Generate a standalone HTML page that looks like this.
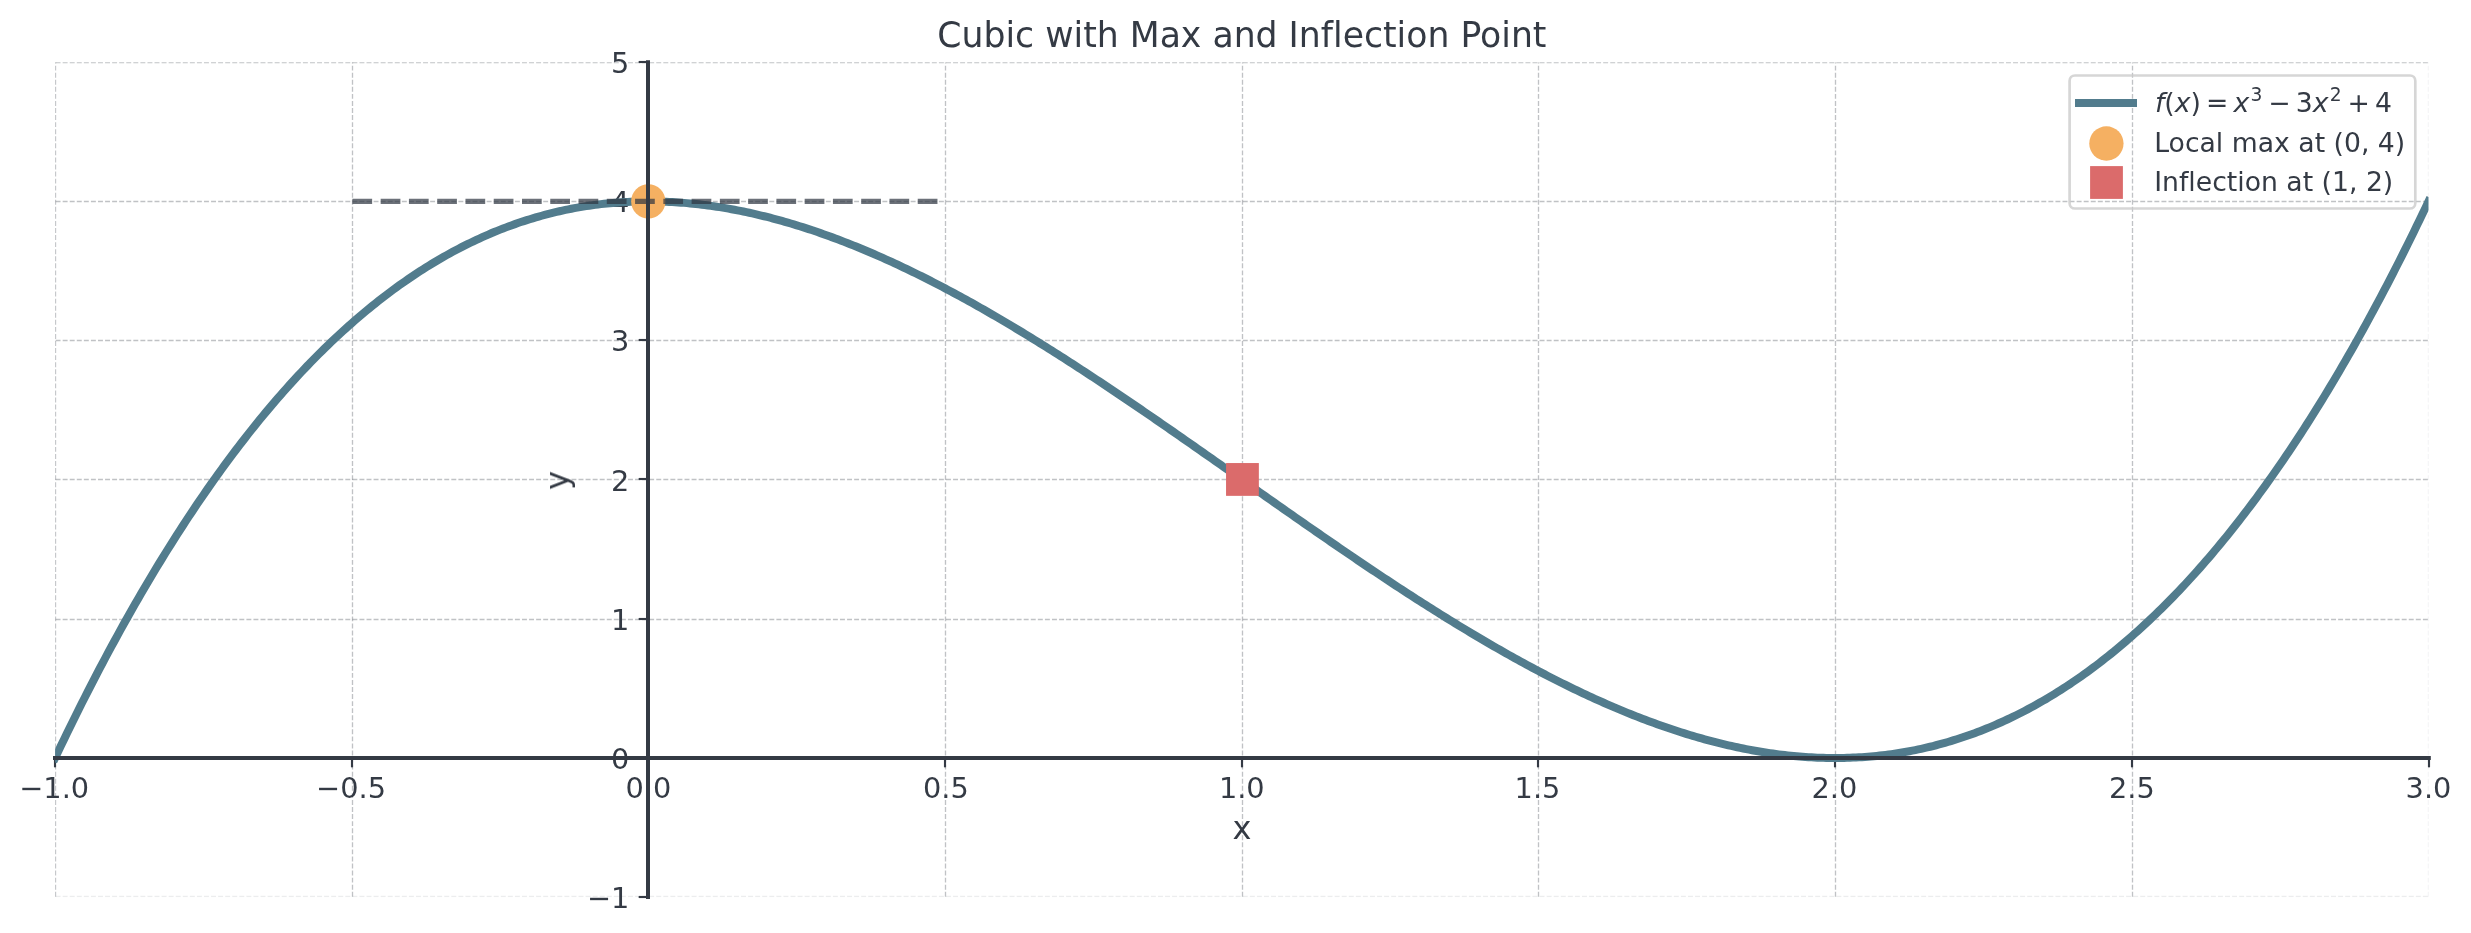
<!DOCTYPE html>
<html><head><meta charset="utf-8"><title>Cubic with Max and Inflection Point</title>
<style>html,body{margin:0;padding:0;background:#fff;overflow:hidden;}svg{display:block;} text{will-change:transform;font-variant-ligatures:none;font-feature-settings:"liga" 0,"clig" 0;}</style>
</head><body>
<svg width="2471" height="933" viewBox="0 0 2471 933">
<defs><clipPath id="ax"><rect x="55.10000000000002" y="62.25" width="2373.4" height="834.9"/></clipPath></defs>
<rect width="2471" height="933" fill="#fff"/>
<g clip-path="url(#ax)" stroke="#2e3440" stroke-width="1.33" stroke-dasharray="4.9333 2.1333" fill="none"><line x1="55.50" y1="896.7" x2="55.50" y2="62.25" stroke-opacity="0.300" stroke-dasharray="4.929 2.1318"/><line x1="352.50" y1="896.7" x2="352.50" y2="62.25" stroke-opacity="0.300" stroke-dasharray="4.929 2.1318"/><line x1="648.50" y1="896.7" x2="648.50" y2="62.25" stroke-opacity="0.300" stroke-dasharray="4.929 2.1318"/><line x1="945.50" y1="896.7" x2="945.50" y2="62.25" stroke-opacity="0.300" stroke-dasharray="4.929 2.1318"/><line x1="1242.50" y1="896.7" x2="1242.50" y2="62.25" stroke-opacity="0.300" stroke-dasharray="4.929 2.1318"/><line x1="1538.50" y1="896.7" x2="1538.50" y2="62.25" stroke-opacity="0.300" stroke-dasharray="4.929 2.1318"/><line x1="1835.50" y1="896.7" x2="1835.50" y2="62.25" stroke-opacity="0.300" stroke-dasharray="4.929 2.1318"/><line x1="2132.50" y1="896.7" x2="2132.50" y2="62.25" stroke-opacity="0.300" stroke-dasharray="4.929 2.1318"/><line x1="2428.50" y1="896.7" x2="2428.50" y2="62.25" stroke-opacity="0.090" stroke-dasharray="4.929 2.1318"/><line x1="55.6" y1="896.50" x2="2428.50" y2="896.50" stroke-opacity="0.090"/><line x1="55.6" y1="758.50" x2="2428.50" y2="758.50" stroke-opacity="0.300"/><line x1="55.6" y1="619.50" x2="2428.50" y2="619.50" stroke-opacity="0.300"/><line x1="55.6" y1="479.50" x2="2428.50" y2="479.50" stroke-opacity="0.300"/><line x1="55.6" y1="340.50" x2="2428.50" y2="340.50" stroke-opacity="0.300"/><line x1="55.6" y1="201.50" x2="2428.50" y2="201.50" stroke-opacity="0.300"/><line x1="55.6" y1="62.50" x2="2428.50" y2="62.50" stroke-opacity="0.300"/></g>
<g stroke="#343a44" stroke-width="2.13"><line x1="55.00" y1="758" x2="55.00" y2="767.33"/><line x1="352.00" y1="758" x2="352.00" y2="767.33"/><line x1="648.00" y1="758" x2="648.00" y2="767.33"/><line x1="945.00" y1="758" x2="945.00" y2="767.33"/><line x1="1242.00" y1="758" x2="1242.00" y2="767.33"/><line x1="1538.00" y1="758" x2="1538.00" y2="767.33"/><line x1="1835.00" y1="758" x2="1835.00" y2="767.33"/><line x1="2132.00" y1="758" x2="2132.00" y2="767.33"/><line x1="2429.00" y1="758" x2="2429.00" y2="767.33"/><line x1="648" y1="897.00" x2="638.67" y2="897.00"/><line x1="648" y1="758.00" x2="638.67" y2="758.00"/><line x1="648" y1="619.00" x2="638.67" y2="619.00"/><line x1="648" y1="479.00" x2="638.67" y2="479.00"/><line x1="648" y1="340.00" x2="638.67" y2="340.00"/><line x1="648" y1="201.00" x2="638.67" y2="201.00"/><line x1="648" y1="62.00" x2="638.67" y2="62.00"/></g>
<g font-family='"DejaVu Sans","Liberation Sans",sans-serif' font-size="28.8" fill="#343a44" text-anchor="middle">
<text x="54.20" y="797.9">−1.0</text>
<text x="351.08" y="797.9">−0.5</text>
<text x="648.45" y="797.9">0.0</text>
<text x="945.92" y="797.9">0.5</text>
<text x="1241.80" y="797.9">1.0</text>
<text x="1537.48" y="797.9">1.5</text>
<text x="1834.35" y="797.9">2.0</text>
<text x="2131.82" y="797.9">2.5</text>
<text x="2428.50" y="797.9">3.0</text>
</g>
<g font-family='"DejaVu Sans","Liberation Sans",sans-serif' font-size="28.8" fill="#343a44" text-anchor="end">
<text x="629.4" y="908.35">−1</text>
<text x="629.4" y="769.40">0</text>
<text x="629.4" y="630.05">1</text>
<text x="629.4" y="491.00">2</text>
<text x="629.4" y="350.75">3</text>
<text x="629.4" y="211.70">4</text>
<text x="629.4" y="72.55">5</text>
</g>
<text x="1241.9" y="838.6" font-family='"DejaVu Sans","Liberation Sans",sans-serif' font-size="32" fill="#343a44" text-anchor="middle">x</text>
<text transform="translate(568.0,480.4) rotate(-90)" x="0" y="0" font-family='"DejaVu Sans","Liberation Sans",sans-serif' font-size="32" fill="#343a44" text-anchor="middle">y</text>
<g clip-path="url(#ax)"><path d="M55.10,758.00 L58.07,751.76 L61.03,745.56 L64.00,739.40 L66.97,733.29 L69.93,727.21 L72.90,721.18 L75.87,715.18 L78.83,709.23 L81.80,703.32 L84.77,697.45 L87.73,691.62 L90.70,685.83 L93.67,680.09 L96.63,674.38 L99.60,668.71 L102.57,663.08 L105.53,657.50 L108.50,651.95 L111.47,646.44 L114.44,640.97 L117.40,635.55 L120.37,630.16 L123.34,624.81 L126.30,619.50 L129.27,614.23 L132.24,609.00 L135.20,603.81 L138.17,598.65 L141.14,593.54 L144.10,588.46 L147.07,583.43 L150.04,578.43 L153.00,573.47 L155.97,568.55 L158.94,563.66 L161.90,558.82 L164.87,554.01 L167.84,549.24 L170.80,544.51 L173.77,539.81 L176.74,535.16 L179.70,530.54 L182.67,525.96 L185.64,521.41 L188.60,516.90 L191.57,512.43 L194.54,508.00 L197.50,503.60 L200.47,499.24 L203.44,494.92 L206.40,490.63 L209.37,486.38 L212.34,482.17 L215.30,477.99 L218.27,473.85 L221.24,469.74 L224.20,465.67 L227.17,461.64 L230.14,457.64 L233.11,453.68 L236.07,449.75 L239.04,445.86 L242.01,442.00 L244.97,438.18 L247.94,434.40 L250.91,430.64 L253.87,426.93 L256.84,423.25 L259.81,419.60 L262.77,415.99 L265.74,412.41 L268.71,408.86 L271.67,405.36 L274.64,401.88 L277.61,398.44 L280.57,395.03 L283.54,391.66 L286.51,388.32 L289.47,385.01 L292.44,381.74 L295.41,378.50 L298.37,375.29 L301.34,372.12 L304.31,368.98 L307.27,365.87 L310.24,362.80 L313.21,359.76 L316.17,356.75 L319.14,353.77 L322.11,350.83 L325.07,347.92 L328.04,345.04 L331.01,342.19 L333.97,339.38 L336.94,336.60 L339.91,333.84 L342.87,331.12 L345.84,328.44 L348.81,325.78 L351.78,323.16 L354.74,320.56 L357.71,318.00 L360.68,315.47 L363.64,312.97 L366.61,310.50 L369.58,308.06 L372.54,305.65 L375.51,303.28 L378.48,300.93 L381.44,298.61 L384.41,296.33 L387.38,294.07 L390.34,291.85 L393.31,289.65 L396.28,287.48 L399.24,285.35 L402.21,283.24 L405.18,281.16 L408.14,279.12 L411.11,277.10 L414.08,275.11 L417.04,273.15 L420.01,271.22 L422.98,269.32 L425.94,267.44 L428.91,265.60 L431.88,263.78 L434.84,261.99 L437.81,260.23 L440.78,258.50 L443.74,256.80 L446.71,255.13 L449.68,253.48 L452.64,251.86 L455.61,250.27 L458.58,248.71 L461.54,247.17 L464.51,245.66 L467.48,244.18 L470.45,242.73 L473.41,241.30 L476.38,239.90 L479.35,238.53 L482.31,237.18 L485.28,235.86 L488.25,234.57 L491.21,233.30 L494.18,232.07 L497.15,230.85 L500.11,229.66 L503.08,228.50 L506.05,227.37 L509.01,226.26 L511.98,225.18 L514.95,224.12 L517.91,223.09 L520.88,222.08 L523.85,221.10 L526.81,220.14 L529.78,219.21 L532.75,218.31 L535.71,217.42 L538.68,216.57 L541.65,215.74 L544.61,214.93 L547.58,214.15 L550.55,213.39 L553.51,212.66 L556.48,211.95 L559.45,211.26 L562.41,210.60 L565.38,209.96 L568.35,209.35 L571.31,208.76 L574.28,208.19 L577.25,207.65 L580.21,207.13 L583.18,206.64 L586.15,206.16 L589.12,205.71 L592.08,205.29 L595.05,204.88 L598.02,204.50 L600.98,204.14 L603.95,203.81 L606.92,203.49 L609.88,203.20 L612.85,202.93 L615.82,202.69 L618.78,202.46 L621.75,202.26 L624.72,202.08 L627.68,201.92 L630.65,201.78 L633.62,201.66 L636.58,201.57 L639.55,201.49 L642.52,201.44 L645.48,201.41 L648.45,201.40 L651.42,201.41 L654.38,201.44 L657.35,201.49 L660.32,201.57 L663.28,201.66 L666.25,201.77 L669.22,201.91 L672.18,202.06 L675.15,202.23 L678.12,202.43 L681.08,202.64 L684.05,202.87 L687.02,203.13 L689.98,203.40 L692.95,203.69 L695.92,204.00 L698.88,204.33 L701.85,204.68 L704.82,205.05 L707.79,205.44 L710.75,205.84 L713.72,206.27 L716.69,206.71 L719.65,207.17 L722.62,207.65 L725.59,208.15 L728.55,208.67 L731.52,209.20 L734.49,209.75 L737.45,210.32 L740.42,210.91 L743.39,211.52 L746.35,212.14 L749.32,212.78 L752.29,213.44 L755.25,214.11 L758.22,214.81 L761.19,215.52 L764.15,216.24 L767.12,216.98 L770.09,217.74 L773.05,218.52 L776.02,219.31 L778.99,220.12 L781.95,220.95 L784.92,221.79 L787.89,222.65 L790.85,223.52 L793.82,224.41 L796.79,225.32 L799.75,226.24 L802.72,227.17 L805.69,228.13 L808.65,229.09 L811.62,230.08 L814.59,231.07 L817.55,232.09 L820.52,233.11 L823.49,234.16 L826.46,235.21 L829.42,236.29 L832.39,237.37 L835.36,238.47 L838.32,239.59 L841.29,240.72 L844.26,241.86 L847.22,243.02 L850.19,244.19 L853.16,245.37 L856.12,246.57 L859.09,247.78 L862.06,249.01 L865.02,250.25 L867.99,251.50 L870.96,252.77 L873.92,254.04 L876.89,255.34 L879.86,256.64 L882.82,257.96 L885.79,259.29 L888.76,260.63 L891.72,261.98 L894.69,263.35 L897.66,264.73 L900.62,266.12 L903.59,267.52 L906.56,268.94 L909.52,270.36 L912.49,271.80 L915.46,273.25 L918.42,274.72 L921.39,276.19 L924.36,277.67 L927.32,279.17 L930.29,280.67 L933.26,282.19 L936.22,283.72 L939.19,285.26 L942.16,286.81 L945.12,288.37 L948.09,289.94 L951.06,291.52 L954.03,293.11 L956.99,294.71 L959.96,296.32 L962.93,297.95 L965.89,299.58 L968.86,301.22 L971.83,302.87 L974.79,304.53 L977.76,306.20 L980.73,307.88 L983.69,309.56 L986.66,311.26 L989.63,312.97 L992.59,314.68 L995.56,316.40 L998.53,318.14 L1001.49,319.88 L1004.46,321.63 L1007.43,323.38 L1010.39,325.15 L1013.36,326.92 L1016.33,328.70 L1019.29,330.49 L1022.26,332.29 L1025.23,334.10 L1028.19,335.91 L1031.16,337.73 L1034.13,339.56 L1037.09,341.39 L1040.06,343.24 L1043.03,345.09 L1045.99,346.94 L1048.96,348.81 L1051.93,350.68 L1054.89,352.55 L1057.86,354.44 L1060.83,356.33 L1063.80,358.22 L1066.76,360.12 L1069.73,362.03 L1072.70,363.95 L1075.66,365.87 L1078.63,367.80 L1081.60,369.73 L1084.56,371.67 L1087.53,373.61 L1090.50,375.56 L1093.46,377.51 L1096.43,379.47 L1099.40,381.44 L1102.36,383.41 L1105.33,385.38 L1108.30,387.36 L1111.26,389.34 L1114.23,391.33 L1117.20,393.32 L1120.16,395.32 L1123.13,397.32 L1126.10,399.33 L1129.06,401.34 L1132.03,403.35 L1135.00,405.37 L1137.96,407.39 L1140.93,409.42 L1143.90,411.45 L1146.86,413.48 L1149.83,415.51 L1152.80,417.55 L1155.76,419.59 L1158.73,421.64 L1161.70,423.69 L1164.66,425.74 L1167.63,427.79 L1170.60,429.85 L1173.56,431.90 L1176.53,433.97 L1179.50,436.03 L1182.47,438.09 L1185.43,440.16 L1188.40,442.23 L1191.37,444.30 L1194.33,446.38 L1197.30,448.45 L1200.27,450.53 L1203.23,452.60 L1206.20,454.68 L1209.17,456.76 L1212.13,458.84 L1215.10,460.93 L1218.07,463.01 L1221.03,465.10 L1224.00,467.18 L1226.97,469.27 L1229.93,471.35 L1232.90,473.44 L1235.87,475.53 L1238.83,477.61 L1241.80,479.70 L1244.77,481.79 L1247.73,483.87 L1250.70,485.96 L1253.67,488.05 L1256.63,490.13 L1259.60,492.22 L1262.57,494.30 L1265.53,496.39 L1268.50,498.47 L1271.47,500.56 L1274.43,502.64 L1277.40,504.72 L1280.37,506.80 L1283.33,508.87 L1286.30,510.95 L1289.27,513.02 L1292.23,515.10 L1295.20,517.17 L1298.17,519.24 L1301.14,521.31 L1304.10,523.37 L1307.07,525.43 L1310.04,527.50 L1313.00,529.55 L1315.97,531.61 L1318.94,533.66 L1321.90,535.71 L1324.87,537.76 L1327.84,539.81 L1330.80,541.85 L1333.77,543.89 L1336.74,545.92 L1339.70,547.95 L1342.67,549.98 L1345.64,552.01 L1348.60,554.03 L1351.57,556.05 L1354.54,558.06 L1357.50,560.07 L1360.47,562.08 L1363.44,564.08 L1366.40,566.08 L1369.37,568.07 L1372.34,570.06 L1375.30,572.04 L1378.27,574.02 L1381.24,575.99 L1384.20,577.96 L1387.17,579.93 L1390.14,581.89 L1393.10,583.84 L1396.07,585.79 L1399.04,587.73 L1402.00,589.67 L1404.97,591.60 L1407.94,593.53 L1410.90,595.45 L1413.87,597.37 L1416.84,599.28 L1419.81,601.18 L1422.77,603.07 L1425.74,604.96 L1428.71,606.85 L1431.67,608.72 L1434.64,610.59 L1437.61,612.46 L1440.57,614.31 L1443.54,616.16 L1446.51,618.01 L1449.47,619.84 L1452.44,621.67 L1455.41,623.49 L1458.37,625.30 L1461.34,627.11 L1464.31,628.91 L1467.27,630.70 L1470.24,632.48 L1473.21,634.25 L1476.17,636.02 L1479.14,637.77 L1482.11,639.52 L1485.07,641.26 L1488.04,643.00 L1491.01,644.72 L1493.97,646.43 L1496.94,648.14 L1499.91,649.84 L1502.87,651.52 L1505.84,653.20 L1508.81,654.87 L1511.77,656.53 L1514.74,658.18 L1517.71,659.82 L1520.67,661.45 L1523.64,663.08 L1526.61,664.69 L1529.57,666.29 L1532.54,667.88 L1535.51,669.46 L1538.48,671.03 L1541.44,672.59 L1544.41,674.14 L1547.38,675.68 L1550.34,677.21 L1553.31,678.73 L1556.28,680.23 L1559.24,681.73 L1562.21,683.21 L1565.18,684.68 L1568.14,686.15 L1571.11,687.60 L1574.08,689.04 L1577.04,690.46 L1580.01,691.88 L1582.98,693.28 L1585.94,694.67 L1588.91,696.05 L1591.88,697.42 L1594.84,698.77 L1597.81,700.11 L1600.78,701.44 L1603.74,702.76 L1606.71,704.06 L1609.68,705.36 L1612.64,706.63 L1615.61,707.90 L1618.58,709.15 L1621.54,710.39 L1624.51,711.62 L1627.48,712.83 L1630.44,714.03 L1633.41,715.21 L1636.38,716.38 L1639.34,717.54 L1642.31,718.68 L1645.28,719.81 L1648.24,720.93 L1651.21,722.03 L1654.18,723.11 L1657.15,724.19 L1660.11,725.24 L1663.08,726.29 L1666.05,727.31 L1669.01,728.33 L1671.98,729.32 L1674.95,730.31 L1677.91,731.27 L1680.88,732.23 L1683.85,733.16 L1686.81,734.08 L1689.78,734.99 L1692.75,735.88 L1695.71,736.75 L1698.68,737.61 L1701.65,738.45 L1704.61,739.28 L1707.58,740.09 L1710.55,740.88 L1713.51,741.66 L1716.48,742.42 L1719.45,743.16 L1722.41,743.88 L1725.38,744.59 L1728.35,745.29 L1731.31,745.96 L1734.28,746.62 L1737.25,747.26 L1740.21,747.88 L1743.18,748.49 L1746.15,749.08 L1749.11,749.65 L1752.08,750.20 L1755.05,750.73 L1758.01,751.25 L1760.98,751.75 L1763.95,752.23 L1766.91,752.69 L1769.88,753.13 L1772.85,753.56 L1775.82,753.96 L1778.78,754.35 L1781.75,754.72 L1784.72,755.07 L1787.68,755.40 L1790.65,755.71 L1793.62,756.00 L1796.58,756.27 L1799.55,756.53 L1802.52,756.76 L1805.48,756.97 L1808.45,757.17 L1811.42,757.34 L1814.38,757.49 L1817.35,757.63 L1820.32,757.74 L1823.28,757.83 L1826.25,757.91 L1829.22,757.96 L1832.18,757.99 L1835.15,758.00 L1838.12,757.99 L1841.08,757.96 L1844.05,757.91 L1847.02,757.83 L1849.98,757.74 L1852.95,757.62 L1855.92,757.48 L1858.88,757.32 L1861.85,757.14 L1864.82,756.94 L1867.78,756.71 L1870.75,756.47 L1873.72,756.20 L1876.68,755.91 L1879.65,755.59 L1882.62,755.26 L1885.58,754.90 L1888.55,754.52 L1891.52,754.11 L1894.49,753.69 L1897.45,753.24 L1900.42,752.76 L1903.39,752.27 L1906.35,751.75 L1909.32,751.21 L1912.29,750.64 L1915.25,750.05 L1918.22,749.44 L1921.19,748.80 L1924.15,748.14 L1927.12,747.45 L1930.09,746.74 L1933.05,746.01 L1936.02,745.25 L1938.99,744.47 L1941.95,743.66 L1944.92,742.83 L1947.89,741.98 L1950.85,741.09 L1953.82,740.19 L1956.79,739.26 L1959.75,738.30 L1962.72,737.32 L1965.69,736.31 L1968.65,735.28 L1971.62,734.22 L1974.59,733.14 L1977.55,732.03 L1980.52,730.90 L1983.49,729.74 L1986.45,728.55 L1989.42,727.33 L1992.39,726.10 L1995.35,724.83 L1998.32,723.54 L2001.29,722.22 L2004.25,720.87 L2007.22,719.50 L2010.19,718.10 L2013.16,716.67 L2016.12,715.22 L2019.09,713.74 L2022.06,712.23 L2025.02,710.69 L2027.99,709.13 L2030.96,707.54 L2033.92,705.92 L2036.89,704.27 L2039.86,702.60 L2042.82,700.90 L2045.79,699.17 L2048.76,697.41 L2051.72,695.62 L2054.69,693.80 L2057.66,691.96 L2060.62,690.08 L2063.59,688.18 L2066.56,686.25 L2069.52,684.29 L2072.49,682.30 L2075.46,680.28 L2078.42,678.24 L2081.39,676.16 L2084.36,674.05 L2087.32,671.92 L2090.29,669.75 L2093.26,667.55 L2096.22,665.33 L2099.19,663.07 L2102.16,660.79 L2105.12,658.47 L2108.09,656.12 L2111.06,653.75 L2114.02,651.34 L2116.99,648.90 L2119.96,646.43 L2122.92,643.93 L2125.89,641.40 L2128.86,638.84 L2131.82,636.24 L2134.79,633.62 L2137.76,630.96 L2140.73,628.28 L2143.69,625.56 L2146.66,622.80 L2149.63,620.02 L2152.59,617.21 L2155.56,614.36 L2158.53,611.48 L2161.49,608.57 L2164.46,605.63 L2167.43,602.65 L2170.39,599.64 L2173.36,596.60 L2176.33,593.53 L2179.29,590.42 L2182.26,587.28 L2185.23,584.11 L2188.19,580.90 L2191.16,577.66 L2194.13,574.39 L2197.09,571.08 L2200.06,567.74 L2203.03,564.37 L2205.99,560.96 L2208.96,557.52 L2211.93,554.04 L2214.89,550.54 L2217.86,546.99 L2220.83,543.41 L2223.79,539.80 L2226.76,536.15 L2229.73,532.47 L2232.69,528.76 L2235.66,525.00 L2238.63,521.22 L2241.59,517.40 L2244.56,513.54 L2247.53,509.65 L2250.49,505.72 L2253.46,501.76 L2256.43,497.76 L2259.40,493.73 L2262.36,489.66 L2265.33,485.55 L2268.30,481.41 L2271.26,477.23 L2274.23,473.02 L2277.20,468.77 L2280.16,464.48 L2283.13,460.16 L2286.10,455.80 L2289.06,451.40 L2292.03,446.97 L2295.00,442.50 L2297.96,437.99 L2300.93,433.44 L2303.90,428.86 L2306.86,424.24 L2309.83,419.59 L2312.80,414.89 L2315.76,410.16 L2318.73,405.39 L2321.70,400.58 L2324.66,395.74 L2327.63,390.85 L2330.60,385.93 L2333.56,380.97 L2336.53,375.97 L2339.50,370.94 L2342.46,365.86 L2345.43,360.75 L2348.40,355.59 L2351.36,350.40 L2354.33,345.17 L2357.30,339.90 L2360.26,334.59 L2363.23,329.24 L2366.20,323.85 L2369.16,318.43 L2372.13,312.96 L2375.10,307.45 L2378.07,301.90 L2381.03,296.32 L2384.00,290.69 L2386.97,285.02 L2389.93,279.31 L2392.90,273.57 L2395.87,267.78 L2398.83,261.95 L2401.80,256.08 L2404.77,250.17 L2407.73,244.22 L2410.70,238.22 L2413.67,232.19 L2416.63,226.11 L2419.60,220.00 L2422.57,213.84 L2425.53,207.64 L2428.50,201.40" fill="none" stroke="#527c8d" stroke-width="8" stroke-linecap="square" stroke-linejoin="round"/>
<circle cx="648.3" cy="201.4" r="17.15" fill="#f5b062"/>
<rect x="1226.05" y="463.05" width="32.8" height="32.8" fill="#db6b6b"/>
<line x1="352.4" y1="201.4" x2="945.12" y2="201.4" stroke="#2e3440" stroke-opacity="0.7" stroke-width="5.33" stroke-dasharray="19.7333 8.5333"/>
</g>
<line x1="53" y1="758" x2="2430.8" y2="758" stroke="#343a44" stroke-width="4"/>
<line x1="648" y1="60.3" x2="648" y2="898.9" stroke="#343a44" stroke-width="4"/>
<text x="1241.9" y="46.8" font-family='"DejaVu Sans","Liberation Sans",sans-serif' font-size="34.67" fill="#343a44" text-anchor="middle">Cubic with Max and Inflection Point</text>
<rect x="2069.6" y="75.5" width="345.70" height="133.00" rx="5.3" fill="none" stroke="#cccccc" stroke-opacity="0.8" stroke-width="2.67"/>
<rect x="2075" y="99" width="62" height="8" fill="#527c8d"/>
<circle cx="2106.4" cy="143.5" r="17.15" fill="#f5b062"/>
<rect x="2090.1" y="166.1" width="32.8" height="32.8" fill="#db6b6b"/>
<g font-family='"DejaVu Sans","Liberation Sans",sans-serif' font-size="26.67" fill="#343a44">
<text x="2154.2" y="152.1">Local max at (0, 4)</text>
<text x="2154.2" y="191.05">Inflection at (1, 2)</text>
<text x="2154.90" y="111.80" font-size="26.67" font-style="oblique">f</text>
<text x="2164.27" y="111.80" font-size="26.67">(</text>
<text x="2174.66" y="111.80" font-size="26.67" font-style="oblique">x</text>
<text x="2190.42" y="111.80" font-size="26.67">)</text>
<text x="2205.99" y="111.80" font-size="26.67">=</text>
<text x="2233.49" y="111.80" font-size="26.67" font-style="oblique">x</text>
<text x="2250.45" y="101.46" font-size="18.67">3</text>
<text x="2268.23" y="111.80" font-size="26.67">−</text>
<text x="2295.73" y="111.80" font-size="26.67">3</text>
<text x="2312.67" y="111.80" font-size="26.67" font-style="oblique">x</text>
<text x="2329.63" y="101.46" font-size="18.67">2</text>
<text x="2347.41" y="111.80" font-size="26.67">+</text>
<text x="2374.91" y="111.80" font-size="26.67">4</text>
</g>
</svg>
</body></html>
